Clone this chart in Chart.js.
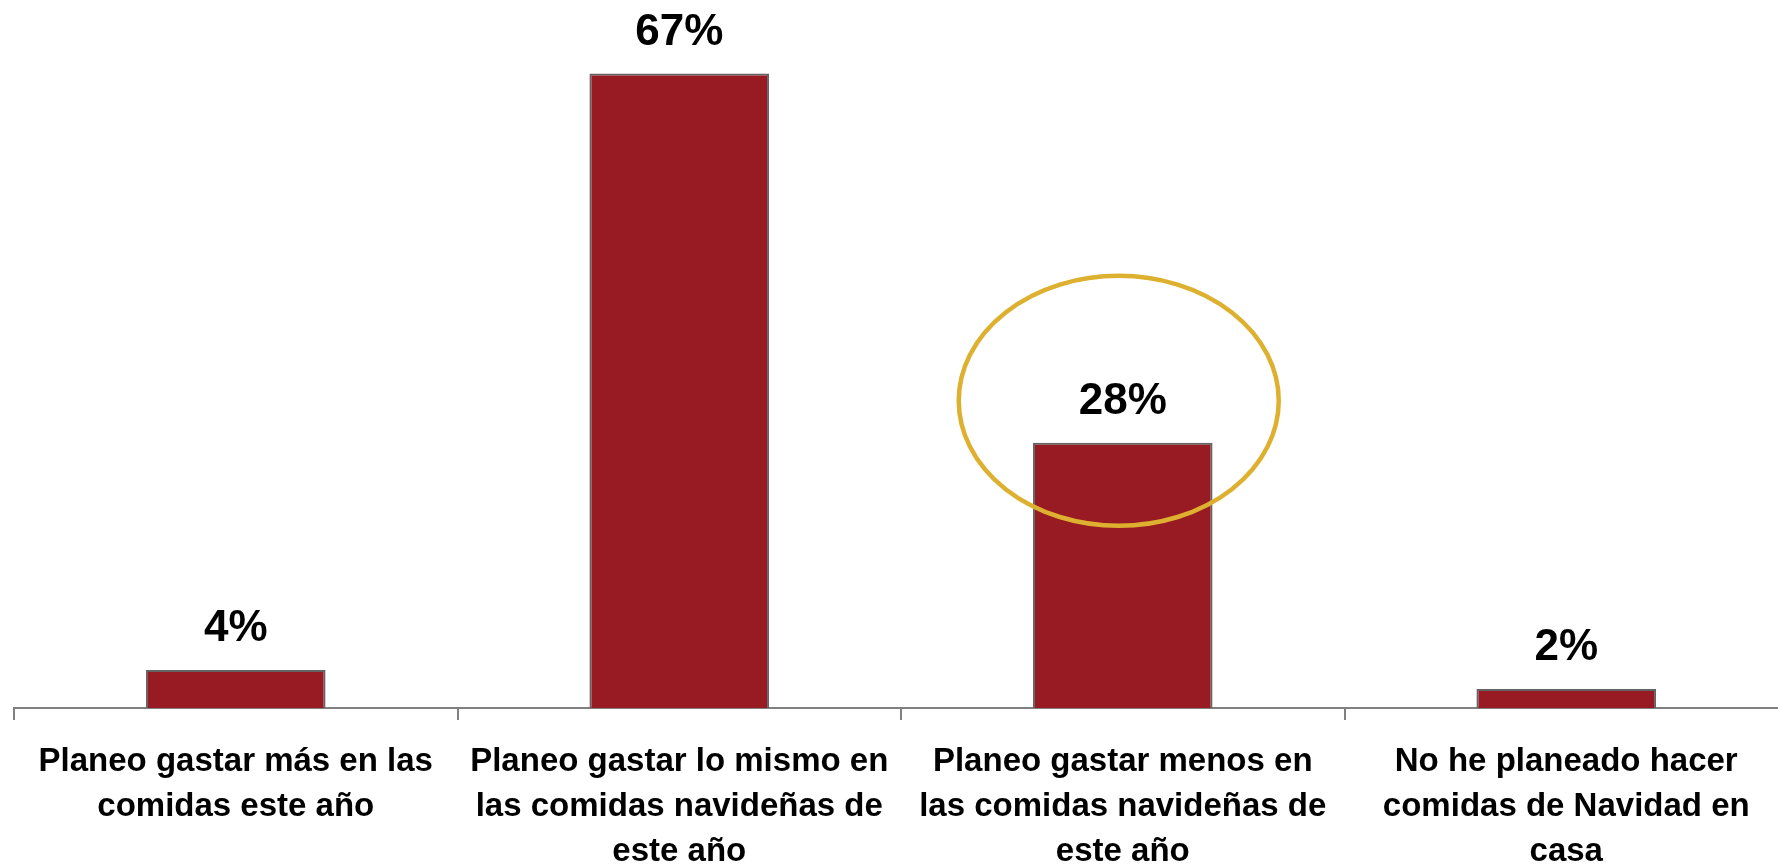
<!DOCTYPE html>
<html lang="es">
<head>
<meta charset="utf-8">
<title>Gasto en comidas navideñas</title>
<script src="https://cdn.jsdelivr.net/npm/chart.js@4.4.1/dist/chart.umd.min.js"></script>
<style>
  html, body { margin: 0; padding: 0; background: #ffffff; overflow: hidden; }
  #wrap { width: 1792px; height: 864px; }
</style>
</head>
<body>
<div id="wrap"><canvas id="chart" width="1792" height="864"></canvas></div>
<script>
// Survey answers (categories) and share of respondents (%)
const categories = [
  ["Planeo gastar más en las", "comidas este año"],
  ["Planeo gastar lo mismo en", "las comidas navideñas de", "este año"],
  ["Planeo gastar menos en", "las comidas navideñas de", "este año"],
  ["No he planeado hacer", "comidas de Navidad en", "casa"]
];
const shares = [4, 67, 28, 2];
const highlighted = [2]; // answer circled in the chart

const FONT = "'Liberation Sans', Arial, Helvetica, sans-serif";

// Percent labels above each bar, plus the ring around the highlighted answer
const valueLabels = {
  id: 'valueLabels',
  afterDatasetsDraw(chart) {
    const ctx = chart.ctx;
    const meta = chart.getDatasetMeta(0);
    ctx.save();
    ctx.font = "bold 44px " + FONT;
    ctx.fillStyle = '#000000';
    ctx.textAlign = 'center';
    ctx.textBaseline = 'middle';
    meta.data.forEach((bar, i) => {
      ctx.fillText(shares[i] + '%', bar.x, bar.y - 41);
    });
    highlighted.forEach(i => {
      const bar = meta.data[i];
      ctx.beginPath();
      ctx.ellipse(bar.x - 4, bar.y - 42, 160, 125, 0, 0, Math.PI * 2);
      ctx.lineWidth = 4.5;
      ctx.strokeStyle = '#DEB030';
      ctx.stroke();
    });
    ctx.restore();
  }
};

new Chart(document.getElementById('chart'), {
  type: 'bar',
  data: {
    labels: categories,
    datasets: [{
      data: shares,
      backgroundColor: '#981A22',
      borderColor: '#646464',
      borderWidth: 2,
      categoryPercentage: 1,
      barPercentage: 0.405
    }]
  },
  options: {
    responsive: false,
    animation: false,
    devicePixelRatio: 1,
    layout: { padding: { left: 14, right: 4, top: 45, bottom: 0 } },
    plugins: { legend: { display: false }, tooltip: { enabled: false } },
    scales: {
      y: { display: false, min: 0, max: 70 },
      x: {
        afterFit(scale) { scale.height = 156; },
        border: { display: true, color: '#808080', width: 2 },
        grid: {
          offset: true,
          drawOnChartArea: false,
          drawTicks: true,
          tickLength: 12,
          color: '#808080',
          lineWidth: 2
        },
        ticks: {
          color: '#000000',
          font: { family: FONT, size: 33, weight: 'bold', lineHeight: 1.364 },
          padding: 19,
          maxRotation: 0,
          autoSkip: false
        }
      }
    }
  },
  plugins: [valueLabels]
});
</script>
</body>
</html>
